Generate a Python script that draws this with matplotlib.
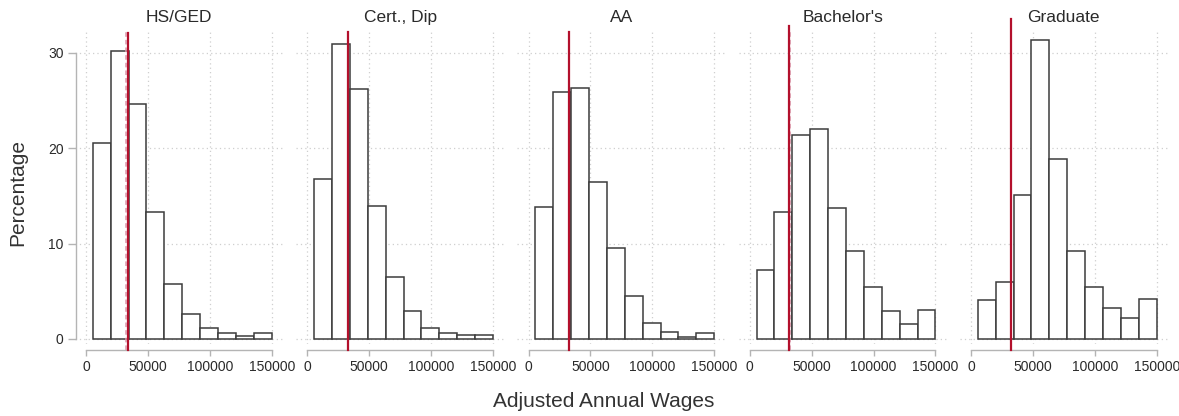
import numpy as np
import matplotlib
matplotlib.use("Agg")
import matplotlib.pyplot as plt

plt.rcParams['font.family'] = ['Liberation Sans', 'DejaVu Sans']

# Education groups and wage distributions (percentage of workers per wage bin)
groups = ["HS/GED", "Cert., Dip", "AA", "Bachelor's", "Graduate"]
bin_edges = np.linspace(5500, 150000, 11)
pct_hs = [20.5, 30.2, 24.6, 13.3, 5.8, 2.6, 1.2, 0.6, 0.3, 0.6]
pct_cert = [16.8, 30.9, 26.2, 13.9, 6.5, 2.9, 1.2, 0.6, 0.4, 0.4]
pct_aa = [13.8, 25.9, 26.3, 16.5, 9.5, 4.5, 1.7, 0.7, 0.2, 0.6]
pct_ba = [7.2, 13.3, 21.4, 22.0, 13.7, 9.2, 5.4, 2.9, 1.6, 3.0]
pct_grad = [4.1, 6.0, 15.1, 31.3, 18.9, 9.2, 5.5, 3.2, 2.2, 4.2]
series = [pct_hs, pct_cert, pct_aa, pct_ba, pct_grad]

# Wage reference lines
ref_wage = [34000, 33000, 32500, 32000, 32000]
common_ref = 32600

x_ticks = [0, 50000, 100000, 150000]
x_ticklabels = ["0", "50000", "100000", "150000"]
y_ticks = [0, 10, 20, 30]

W, H = 1179, 416
fig = plt.figure(figsize=(W / 100, H / 100), dpi=100)

px_per_x = 185.7 / 150000
px_per_y = 9.543
xlim = (-9000, 159000)
ylim = (-0.5, 32.17)
zero_y_px = 339.0
top_px = zero_y_px - (ylim[1] - 0) * px_per_y
bot_px = zero_y_px - (ylim[0]) * px_per_y
line_tops_px = [32.7, 31.7, 31.7, 26.0, 19.0]
line_bottom = (zero_y_px - 350) / px_per_y

text_col = "#2a2a2a"
axis_col = "#b4b4b4"
grid_col = "#cfcfcf"

for i, (name, vals) in enumerate(zip(groups, series)):
    zero_x_px = 86 + 221.25 * i
    left_px = zero_x_px + xlim[0] * px_per_x
    width_px = (xlim[1] - xlim[0]) * px_per_x
    ax = fig.add_axes([left_px / W, 1 - bot_px / H, width_px / W, (bot_px - top_px) / H])
    ax.set_xlim(*xlim)
    ax.set_ylim(*ylim)

    for gx in x_ticks:
        ax.axvline(gx, color=grid_col, lw=0.9, ls=(0, (1, 2.5)), zorder=0)
    for gy in y_ticks:
        ax.axhline(gy, color=grid_col, lw=0.9, ls=(0, (1, 2.5)), zorder=0)

    widths = np.diff(bin_edges)
    ax.bar(bin_edges[:-1], vals, width=widths, align="edge", facecolor="white",
           edgecolor="#3c3c3c", linewidth=1.1, zorder=2)

    ax.plot([common_ref, common_ref], [line_bottom, ylim[1]], color="#dc9aae",
            lw=1.1, ls=(0, (3, 2)), zorder=3, clip_on=False)
    top_val = (zero_y_px - line_tops_px[i]) / px_per_y
    ax.plot([ref_wage[i], ref_wage[i]], [line_bottom, top_val], color="#b3102c",
            lw=1.6, zorder=4, clip_on=False)

    for side in ["top", "right"]:
        ax.spines[side].set_visible(False)
    ax.spines["bottom"].set_position(("outward", 4.5))
    ax.spines["bottom"].set_bounds(0, 150000)
    ax.spines["bottom"].set_color(axis_col)
    ax.spines["bottom"].set_linewidth(1.0)
    ax.set_xticks(x_ticks)
    ax.set_xticklabels(x_ticklabels)
    ax.tick_params(axis="x", direction="out", length=4, width=1.0, color=axis_col,
                   labelsize=10, labelcolor=text_col, pad=3)

    if i == 0:
        ax.spines["left"].set_position(("outward", -1))
        ax.spines["left"].set_bounds(0, 30)
        ax.spines["left"].set_color(axis_col)
        ax.spines["left"].set_linewidth(1.0)
        ax.set_yticks(y_ticks)
        ax.tick_params(axis="y", direction="out", length=6, width=1.0, color=axis_col,
                       labelsize=10, labelcolor=text_col, pad=3)
    else:
        ax.spines["left"].set_visible(False)
        ax.set_yticks([])

    fig.text((zero_x_px + 150000 * px_per_x / 2) / W, 1 - 17.5 / H, name,
             ha="center", va="center", fontsize=12.5, color=text_col)

fig.text(17.5 / W, 1 - 193 / H, "Percentage", rotation=90, ha="center", va="center",
         fontsize=15, color="#333333")
fig.text(604 / W, 1 - 401.5 / H, "Adjusted Annual Wages", ha="center", va="center",
         fontsize=15, color="#333333")

fig.savefig("out.png", dpi=100, facecolor="white")
